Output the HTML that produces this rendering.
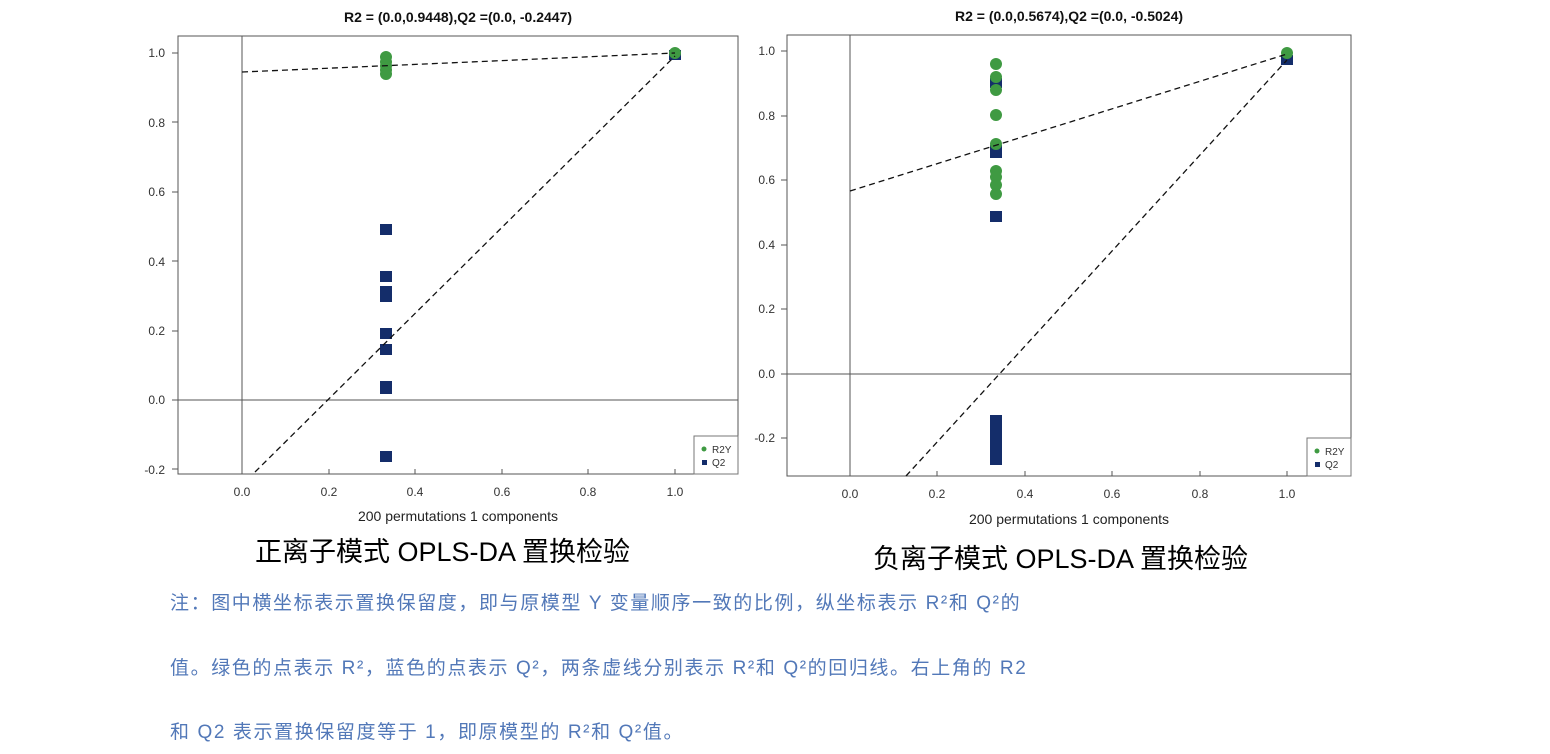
<!DOCTYPE html>
<html><head><meta charset="utf-8"><style>
body{margin:0;background:#fff;width:1550px;height:754px;overflow:hidden}
svg text{font-family:"Liberation Sans",sans-serif}
.note{position:absolute;left:170px;font-family:"Liberation Sans","Noto Sans CJK SC",sans-serif;font-size:19px;color:#5278b8;letter-spacing:1.6px;white-space:nowrap}
.cap{position:absolute;font-family:"Liberation Sans","Noto Sans CJK SC",sans-serif;font-size:27px;color:#000}
</style></head><body>
<svg width="1550" height="754" style="position:absolute;left:0;top:0">
<g font-size="12" fill="#333">
<!-- LEFT -->
<text x="458" y="22" text-anchor="middle" font-weight="bold" font-size="14" fill="#111">R2 = (0.0,0.9448),Q2 =(0.0, -0.2447)</text>
<rect x="178" y="36" width="560" height="438" fill="none" stroke="#555"/>
<line x1="242" y1="36" x2="242" y2="474" stroke="#555"/>
<line x1="178" y1="400" x2="738" y2="400" stroke="#555"/>
<g text-anchor="end">
<text x="165" y="57">1.0</text><text x="165" y="127">0.8</text><text x="165" y="196">0.6</text><text x="165" y="266">0.4</text><text x="165" y="335">0.2</text><text x="165" y="404">0.0</text><text x="165" y="474">-0.2</text></g>
<g stroke="#555"><line x1="178" y1="53" x2="172" y2="53"/><line x1="178" y1="122" x2="172" y2="122"/><line x1="178" y1="192" x2="172" y2="192"/><line x1="178" y1="261" x2="172" y2="261"/><line x1="178" y1="331" x2="172" y2="331"/><line x1="178" y1="400" x2="172" y2="400"/><line x1="178" y1="469" x2="172" y2="469"/>
<line x1="242" y1="474" x2="242" y2="469"/><line x1="329" y1="474" x2="329" y2="469"/><line x1="415" y1="474" x2="415" y2="469"/><line x1="502" y1="474" x2="502" y2="469"/><line x1="588" y1="474" x2="588" y2="469"/><line x1="675" y1="474" x2="675" y2="469"/></g>
<g text-anchor="middle"><text x="242" y="496">0.0</text><text x="329" y="496">0.2</text><text x="415" y="496">0.4</text><text x="502" y="496">0.6</text><text x="588" y="496">0.8</text><text x="675" y="496">1.0</text>
<text x="458" y="521" font-size="14" fill="#222">200 permutations 1 components</text></g>
<g fill="#3f9a42"><circle cx="386" cy="57" r="6"/><circle cx="386" cy="62" r="6"/><circle cx="386" cy="66" r="6"/><circle cx="386" cy="70" r="6"/><circle cx="386" cy="74" r="6"/></g>
<g fill="#142d6a"><rect x="380" y="224" width="12" height="11"/><rect x="380" y="271" width="12" height="11"/><rect x="380" y="286" width="12" height="16"/><rect x="380" y="328" width="12" height="11"/><rect x="380" y="344" width="12" height="11"/><rect x="380" y="381" width="12" height="13"/><rect x="380" y="451" width="12" height="11"/><rect x="669" y="50" width="12" height="10"/></g>
<circle cx="675" cy="53" r="6" fill="#3f9a42"/>
<g stroke="#111" stroke-dasharray="6,4" stroke-width="1.3" fill="none"><line x1="242" y1="72" x2="675" y2="53"/><line x1="255" y1="472" x2="675" y2="56"/></g>
<rect x="694" y="436" width="44" height="38" fill="#fff" stroke="#777"/>
<circle cx="704" cy="449" r="2.5" fill="#3f9a42"/><rect x="702" y="460" width="5" height="5" fill="#142d6a"/>
<text x="712" y="453" font-size="10">R2Y</text><text x="712" y="466" font-size="10">Q2</text>

<!-- RIGHT -->
<text x="1069" y="21" text-anchor="middle" font-weight="bold" font-size="14" fill="#111">R2 = (0.0,0.5674),Q2 =(0.0, -0.5024)</text>
<rect x="787" y="35" width="564" height="441" fill="none" stroke="#555"/>
<line x1="850" y1="35" x2="850" y2="476" stroke="#555"/>
<line x1="787" y1="374" x2="1351" y2="374" stroke="#555"/>
<g text-anchor="end">
<text x="775" y="55">1.0</text><text x="775" y="120">0.8</text><text x="775" y="184">0.6</text><text x="775" y="249">0.4</text><text x="775" y="313">0.2</text><text x="775" y="378">0.0</text><text x="775" y="442">-0.2</text></g>
<g stroke="#555"><line x1="787" y1="51" x2="781" y2="51"/><line x1="787" y1="116" x2="781" y2="116"/><line x1="787" y1="180" x2="781" y2="180"/><line x1="787" y1="245" x2="781" y2="245"/><line x1="787" y1="309" x2="781" y2="309"/><line x1="787" y1="374" x2="781" y2="374"/><line x1="787" y1="438" x2="781" y2="438"/>
<line x1="850" y1="476" x2="850" y2="471"/><line x1="937" y1="476" x2="937" y2="471"/><line x1="1025" y1="476" x2="1025" y2="471"/><line x1="1112" y1="476" x2="1112" y2="471"/><line x1="1200" y1="476" x2="1200" y2="471"/><line x1="1287" y1="476" x2="1287" y2="471"/></g>
<g text-anchor="middle"><text x="850" y="498">0.0</text><text x="937" y="498">0.2</text><text x="1025" y="498">0.4</text><text x="1112" y="498">0.6</text><text x="1200" y="498">0.8</text><text x="1287" y="498">1.0</text>
<text x="1069" y="524" font-size="14" fill="#222">200 permutations 1 components</text></g>
<g fill="#142d6a"><rect x="990" y="78" width="12" height="10"/><rect x="990" y="145" width="12" height="13"/><rect x="990" y="211" width="12" height="11"/><rect x="990" y="415" width="12" height="50"/><rect x="1281" y="55" width="12" height="10"/></g>
<g fill="#3f9a42"><circle cx="996" cy="64" r="6"/><circle cx="996" cy="77" r="6"/><circle cx="996" cy="90" r="6"/><circle cx="996" cy="115" r="6"/><circle cx="996" cy="144" r="6"/><circle cx="996" cy="171" r="6"/><circle cx="996" cy="177" r="6"/><circle cx="996" cy="185" r="6"/><circle cx="996" cy="194" r="6"/><circle cx="1287" cy="53" r="6"/></g>
<g stroke="#111" stroke-dasharray="6,4" stroke-width="1.3" fill="none"><line x1="850" y1="191" x2="1287" y2="54"/><line x1="906" y1="476" x2="1287" y2="60"/></g>
<rect x="1307" y="438" width="44" height="38" fill="#fff" stroke="#777"/>
<circle cx="1317" cy="451" r="2.5" fill="#3f9a42"/><rect x="1315" y="462" width="5" height="5" fill="#142d6a"/>
<text x="1325" y="455" font-size="10">R2Y</text><text x="1325" y="468" font-size="10">Q2</text>
</g></svg>
<div class="cap" style="left:255px;top:530px">正离子模式 OPLS-DA 置换检验</div>
<div class="cap" style="left:873px;top:537px">负离子模式 OPLS-DA 置换检验</div>
<div class="note" style="top:588px">注：图中横坐标表示置换保留度，即与原模型 Y 变量顺序一致的比例，纵坐标表示 R²和 Q²的</div>
<div class="note" style="top:653px">值。绿色的点表示 R²，蓝色的点表示 Q²，两条虚线分别表示 R²和 Q²的回归线。右上角的 R2</div>
<div class="note" style="top:717px">和 Q2 表示置换保留度等于 1，即原模型的 R²和 Q²值。</div>
</body></html>
